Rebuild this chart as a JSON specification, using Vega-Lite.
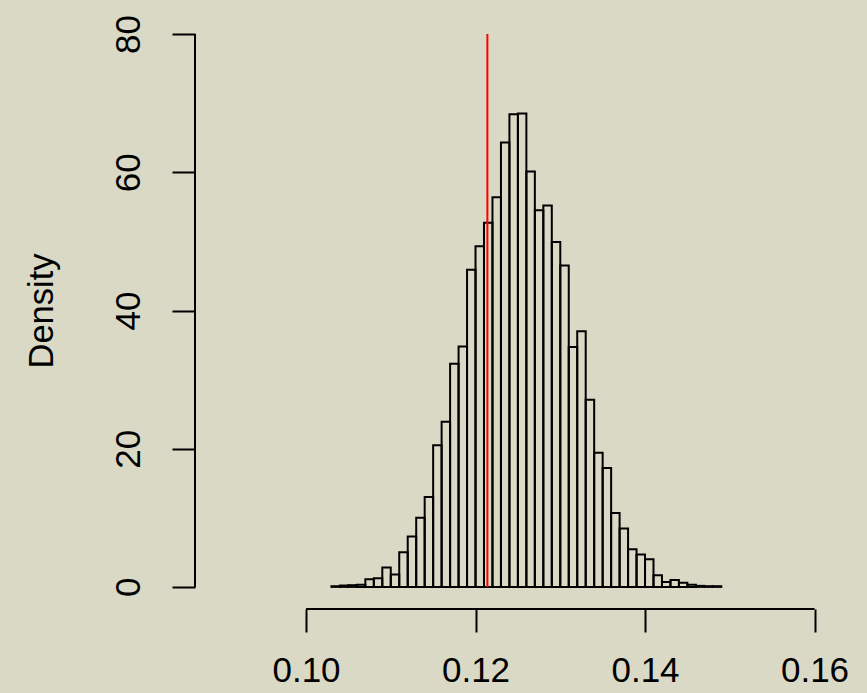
{
  "$schema": "https://vega.github.io/schema/vega-lite/v6.json",
  "width": 643,
  "height": 597,
  "autosize": "none",
  "padding": {"left": 195, "top": 12, "right": 29, "bottom": 84},
  "background": "#d9d9c6",
  "config": {
    "view": {"stroke": null},
    "font": "Liberation Sans",
    "axis": {"grid": false, "domain": false, "tickColor": "black", "tickWidth": 2, "labelColor": "black", "labelFont": "Liberation Sans", "titleFont": "Liberation Sans", "titleColor": "black", "titleFontWeight": "normal"}
  },
  "datasets": {
    "bins": [
      {"lo": 0.103, "hi": 0.104, "density": 0.1},
      {"lo": 0.104, "hi": 0.105, "density": 0.2},
      {"lo": 0.105, "hi": 0.106, "density": 0.25},
      {"lo": 0.106, "hi": 0.107, "density": 0.3},
      {"lo": 0.107, "hi": 0.108, "density": 1.1},
      {"lo": 0.108, "hi": 0.109, "density": 1.25},
      {"lo": 0.109, "hi": 0.110, "density": 2.8},
      {"lo": 0.110, "hi": 0.111, "density": 1.8},
      {"lo": 0.111, "hi": 0.112, "density": 5.0},
      {"lo": 0.112, "hi": 0.113, "density": 7.3},
      {"lo": 0.113, "hi": 0.114, "density": 10.0},
      {"lo": 0.114, "hi": 0.115, "density": 13.0},
      {"lo": 0.115, "hi": 0.116, "density": 20.5},
      {"lo": 0.116, "hi": 0.117, "density": 23.9},
      {"lo": 0.117, "hi": 0.118, "density": 32.3},
      {"lo": 0.118, "hi": 0.119, "density": 34.8},
      {"lo": 0.119, "hi": 0.120, "density": 45.9},
      {"lo": 0.120, "hi": 0.121, "density": 49.3},
      {"lo": 0.121, "hi": 0.122, "density": 52.7},
      {"lo": 0.122, "hi": 0.123, "density": 56.4},
      {"lo": 0.123, "hi": 0.124, "density": 64.3},
      {"lo": 0.124, "hi": 0.125, "density": 68.4},
      {"lo": 0.125, "hi": 0.126, "density": 68.5},
      {"lo": 0.126, "hi": 0.127, "density": 60.1},
      {"lo": 0.127, "hi": 0.128, "density": 54.5},
      {"lo": 0.128, "hi": 0.129, "density": 55.2},
      {"lo": 0.129, "hi": 0.130, "density": 49.9},
      {"lo": 0.130, "hi": 0.131, "density": 46.5},
      {"lo": 0.131, "hi": 0.132, "density": 34.7},
      {"lo": 0.132, "hi": 0.133, "density": 37.0},
      {"lo": 0.133, "hi": 0.134, "density": 27.1},
      {"lo": 0.134, "hi": 0.135, "density": 19.4},
      {"lo": 0.135, "hi": 0.136, "density": 17.2},
      {"lo": 0.136, "hi": 0.137, "density": 10.7},
      {"lo": 0.137, "hi": 0.138, "density": 8.45},
      {"lo": 0.138, "hi": 0.139, "density": 5.46},
      {"lo": 0.139, "hi": 0.140, "density": 4.7},
      {"lo": 0.140, "hi": 0.141, "density": 4.0},
      {"lo": 0.141, "hi": 0.142, "density": 1.7},
      {"lo": 0.142, "hi": 0.143, "density": 0.7},
      {"lo": 0.143, "hi": 0.144, "density": 1.0},
      {"lo": 0.144, "hi": 0.145, "density": 0.6},
      {"lo": 0.145, "hi": 0.146, "density": 0.3},
      {"lo": 0.146, "hi": 0.147, "density": 0.15},
      {"lo": 0.147, "hi": 0.148, "density": 0.1},
      {"lo": 0.148, "hi": 0.149, "density": 0.1}
    ],
    "xaxisline": [{"x0": 0.10, "x1": 0.16, "y": -3.2}],
    "yaxisline": [{"x": 0.0869, "y0": 0, "y1": 80}],
    "marker": [{"x": 0.1214, "y0": 0, "y1": 80}]
  },
  "layer": [
    {
      "data": {"name": "bins"},
      "mark": {"type": "bar", "fill": "#d9d9c6", "fillOpacity": 0, "stroke": "black", "strokeWidth": 2},
      "encoding": {
        "x": {
          "field": "lo", "type": "quantitative",
          "scale": {"domain": [0.0869, 0.16277], "nice": false, "zero": false},
          "axis": {"values": [0.10, 0.12, 0.14, 0.16], "format": ".2f", "title": null, "tickSize": 23, "labelFontSize": 35, "labelPadding": 21, "labelFlush": false}
        },
        "x2": {"field": "hi"},
        "y": {
          "field": "density", "type": "quantitative",
          "scale": {"domain": [-3.2, 83.2], "nice": false, "zero": false},
          "axis": {"values": [0, 20, 40, 60, 80], "title": "Density", "titleFontSize": 34.5, "titlePadding": 52, "tickSize": 23, "labelFontSize": 35, "labelAngle": 270, "labelPadding": 26, "labelFlush": false, "labelAlign": "center", "labelBaseline": "bottom"}
        },
        "y2": {"datum": 0}
      }
    },
    {
      "data": {"name": "xaxisline"},
      "mark": {"type": "rule", "color": "black", "strokeWidth": 2},
      "encoding": {
        "x": {"field": "x0", "type": "quantitative"},
        "x2": {"field": "x1"},
        "y": {"field": "y", "type": "quantitative"}
      }
    },
    {
      "data": {"name": "yaxisline"},
      "mark": {"type": "rule", "color": "black", "strokeWidth": 2},
      "encoding": {
        "x": {"field": "x", "type": "quantitative"},
        "y": {"field": "y0", "type": "quantitative"},
        "y2": {"field": "y1"}
      }
    },
    {
      "data": {"name": "marker"},
      "mark": {"type": "rule", "color": "#ff0000", "strokeWidth": 2},
      "encoding": {
        "x": {"field": "x", "type": "quantitative"},
        "y": {"field": "y0", "type": "quantitative"},
        "y2": {"field": "y1"}
      }
    }
  ]
}
